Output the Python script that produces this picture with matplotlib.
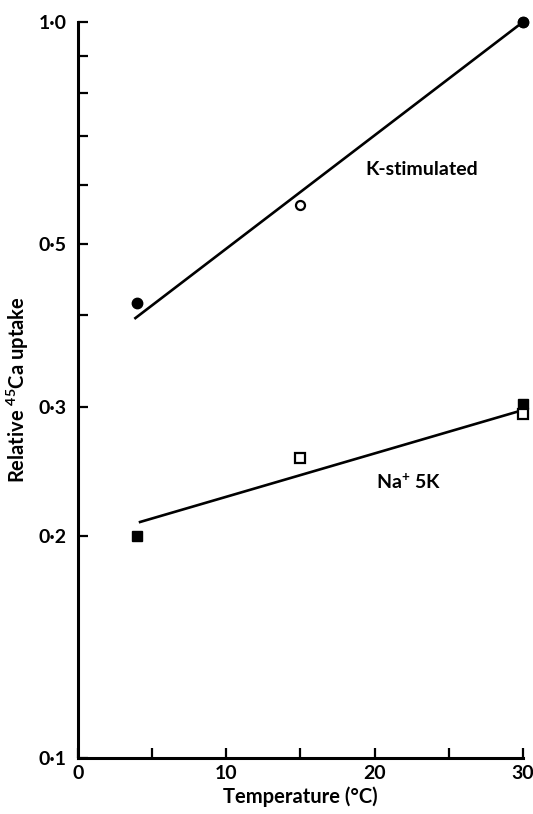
import numpy as np
import matplotlib.pyplot as plt
from matplotlib.ticker import FixedLocator, NullLocator, FixedFormatter

plt.rcParams['font.family'] = ['Lato', 'DejaVu Sans']
plt.rcParams['font.weight'] = 'bold'
plt.rcParams['mathtext.default'] = 'regular'

# K-stimulated uptake
k_temp_filled = [4, 30]
k_val_filled = [0.415, 1.0]
k_temp_open = [15, 30]
k_val_open = [0.564, 1.0]
k_fit_temp = [3.8, 30]
k_fit_val = [0.395, 1.0]

# Na + 5K uptake
na_temp_filled = [4, 30]
na_val_filled = [0.20, 0.303]
na_temp_open = [15, 30]
na_val_open = [0.256, 0.293]
na_fit_temp = [4.1, 30]
na_fit_val = [0.209, 0.297]

y_ticks = [0.1, 0.2, 0.3, 0.4, 0.5, 0.6, 0.7, 0.8, 0.9, 1.0]
y_labels = ['0·1', '0·2', '0·3', '', '0·5', '', '', '', '', '1·0']
x_ticks = [0, 5, 10, 15, 20, 25, 30]
x_labels = ['0', '', '10', '', '20', '', '30']

fig = plt.figure(figsize=(5.33, 8.14), dpi=100)
ax = fig.add_axes([0.1463, 0.0688, 0.8349, 0.9042])

ax.plot(k_fit_temp, k_fit_val, color='black', lw=1.9, solid_capstyle='butt')
ax.plot(na_fit_temp, na_fit_val, color='black', lw=1.9, solid_capstyle='butt')

ax.plot(k_temp_open, k_val_open, 'o', ms=6.5, mfc='white', mec='black', mew=1.6, clip_on=False)
ax.plot(k_temp_filled, k_val_filled, 'o', ms=7.5, mfc='black', mec='black', clip_on=False)
ax.plot(na_temp_filled, na_val_filled, 's', ms=6.5, mfc='black', mec='black', clip_on=False)
ax.plot(na_temp_open, na_val_open, 's', ms=6.5, mfc='white', mec='black', mew=1.6, clip_on=False)

ax.set_yscale('log')
ax.set_xlim(0, 30)
ax.set_ylim(0.1, 1.0)

ax.yaxis.set_major_locator(FixedLocator(y_ticks))
ax.yaxis.set_major_formatter(FixedFormatter(y_labels))
ax.yaxis.set_minor_locator(NullLocator())
ax.xaxis.set_major_locator(FixedLocator(x_ticks))
ax.xaxis.set_major_formatter(FixedFormatter(x_labels))

ax.tick_params(axis='both', direction='in', length=7, width=1.6, labelsize=14, pad=5)
ax.tick_params(axis='y', pad=8)

for side in ['top', 'right']:
    ax.spines[side].set_visible(False)
for side in ['left', 'bottom']:
    ax.spines[side].set_linewidth(2.2)

ax.set_xlabel('Temperature (°C)', fontsize=14.5, fontweight='bold', labelpad=3)
ax.set_ylabel('Relative $^{45}$Ca uptake', fontsize=14.5, fontweight='bold', labelpad=6)

ax.text(19.35, 0.63, 'K-stimulated', fontsize=14, fontweight='bold', ha='left', va='center')
ax.text(20.1, 0.237, 'Na$^{+}$ 5K', fontsize=14, fontweight='bold', ha='left', va='center')

fig.savefig('out.png', dpi=100)
